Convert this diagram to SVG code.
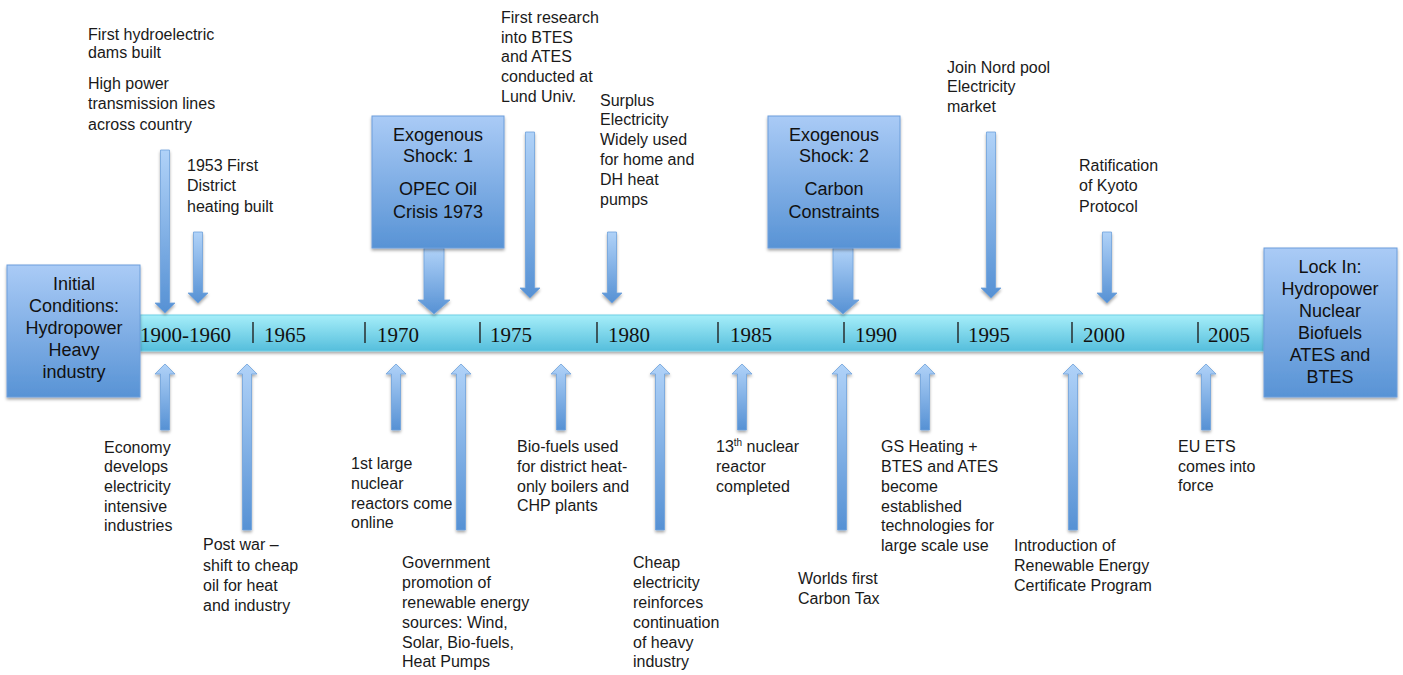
<svg xmlns="http://www.w3.org/2000/svg" width="1403" height="675" viewBox="0 0 1403 675">
  <defs>
    <linearGradient id="boxFill" x1="0" y1="0" x2="0" y2="1">
      <stop offset="0" stop-color="#aacbf6"/>
      <stop offset="1" stop-color="#5893d5"/>
    </linearGradient>
    <linearGradient id="barFill" x1="0" y1="0" x2="0" y2="1">
      <stop offset="0" stop-color="#a6eef9"/>
      <stop offset="1" stop-color="#55bedc"/>
    </linearGradient>
    <linearGradient id="arrowFill" x1="0" y1="0" x2="0" y2="1">
      <stop offset="0" stop-color="#b0d2f8"/>
      <stop offset="1" stop-color="#5691d4"/>
    </linearGradient>
    <filter id="shadow" x="-20%" y="-20%" width="140%" height="140%">
      <feDropShadow dx="0" dy="2" stdDeviation="1.6" flood-color="#000" flood-opacity="0.35"/>
    </filter>
  </defs>
  <style>
    .box { fill: url(#boxFill); stroke: #6d9edb; stroke-width: 1; filter: url(#shadow); }
    .bar { fill: url(#barFill); stroke: #6fcfe6; stroke-width: 1; filter: url(#shadow); }
    .arrow { fill: url(#arrowFill); stroke: #6ea2dc; stroke-width: 0.8; filter: url(#shadow); }
    .tick { stroke: #222; stroke-width: 1.4; }
    .year { font-family: "Liberation Serif", "Times New Roman", serif; font-size: 21px; fill: #111; }
    .lbl { font-family: "Liberation Sans", Arial, sans-serif; font-size: 16px; fill: #1a1a1a; }
    .boxtxt { font-family: "Liberation Sans", Arial, sans-serif; font-size: 18px; fill: #111; text-anchor: middle; }
  </style>

  <!-- timeline bar -->
  <g id="timeline">
    <rect class="bar" x="140" y="315" width="1124" height="36"/>
    <g class="tick">
      <line x1="253" y1="322" x2="253" y2="343"/>
      <line x1="365" y1="322" x2="365" y2="343"/>
      <line x1="480" y1="322" x2="480" y2="343"/>
      <line x1="597" y1="322" x2="597" y2="343"/>
      <line x1="718" y1="322" x2="718" y2="343"/>
      <line x1="844" y1="322" x2="844" y2="343"/>
      <line x1="958" y1="322" x2="958" y2="343"/>
      <line x1="1072" y1="322" x2="1072" y2="343"/>
      <line x1="1198" y1="322" x2="1198" y2="343"/>
    </g>
    <g class="year">
      <text x="140" y="342">1900-1960</text>
      <text x="264" y="342">1965</text>
      <text x="377" y="342">1970</text>
      <text x="490" y="342">1975</text>
      <text x="608" y="342">1980</text>
      <text x="730" y="342">1985</text>
      <text x="855" y="342">1990</text>
      <text x="968" y="342">1995</text>
      <text x="1083" y="342">2000</text>
      <text x="1208" y="342">2005</text>
    </g>
  </g>

  <!-- arrows pointing to the timeline -->
  <g id="connectors">
    <!-- from above -->
    <path class="arrow" d="M160.5,150 H169.5 V303 H175 L165,313 L155,303 H160.5 Z"/>
    <path class="arrow" d="M193.5,232 H202.5 V293 H208 L198,303 L188,293 H193.5 Z"/>
    <path class="arrow" d="M424,248 H444 V300 H450 L434,314 L418,300 H424 Z"/>
    <path class="arrow" d="M525.5,132 H534.5 V288 H540 L530,298 L520,288 H525.5 Z"/>
    <path class="arrow" d="M607.5,232 H616.5 V293 H622 L612,303 L602,293 H607.5 Z"/>
    <path class="arrow" d="M833,248 H853 V300 H859 L843,314 L827,300 H833 Z"/>
    <path class="arrow" d="M986.5,132 H995.5 V288 H1001 L991,298 L981,288 H986.5 Z"/>
    <path class="arrow" d="M1102.5,232 H1111.5 V293 H1117 L1107,303 L1097,293 H1102.5 Z"/>
    <!-- from below -->
    <path class="arrow" d="M165,364 L175,374 H169.5 V430 H160.5 V374 H155 Z"/>
    <path class="arrow" d="M247,364 L257,374 H251.5 V530 H242.5 V374 H237 Z"/>
    <path class="arrow" d="M396,364 L406,374 H400.5 V430 H391.5 V374 H386 Z"/>
    <path class="arrow" d="M461,364 L471,374 H465.5 V530 H456.5 V374 H451 Z"/>
    <path class="arrow" d="M561,364 L571,374 H565.5 V430 H556.5 V374 H551 Z"/>
    <path class="arrow" d="M660,364 L670,374 H664.5 V530 H655.5 V374 H650 Z"/>
    <path class="arrow" d="M742,364 L752,374 H746.5 V430 H737.5 V374 H732 Z"/>
    <path class="arrow" d="M842,364 L852,374 H846.5 V530 H837.5 V374 H832 Z"/>
    <path class="arrow" d="M925,364 L935,374 H929.5 V430 H920.5 V374 H915 Z"/>
    <path class="arrow" d="M1073,364 L1083,374 H1077.5 V530 H1068.5 V374 H1063 Z"/>
    <path class="arrow" d="M1206,364 L1216,374 H1210.5 V430 H1201.5 V374 H1196 Z"/>
  </g>

  <!-- boxes -->
  <g id="initial-conditions">
    <rect class="box" x="7" y="265" width="133" height="132"/>
    <text class="boxtxt" y="290"><tspan x="74">Initial</tspan><tspan x="74" dy="22">Conditions:</tspan><tspan x="74" dy="22">Hydropower</tspan><tspan x="74" dy="22">Heavy</tspan><tspan x="74" dy="22">industry</tspan></text>
  </g>
  <g id="shock-1">
    <rect class="box" x="372" y="116" width="132" height="132"/>
    <text class="boxtxt" y="141"><tspan x="438">Exogenous</tspan><tspan x="438" dy="21">Shock: 1</tspan><tspan x="438" dy="33">OPEC Oil</tspan><tspan x="438" dy="23">Crisis 1973</tspan></text>
  </g>
  <g id="shock-2">
    <rect class="box" x="768" y="116" width="132" height="132"/>
    <text class="boxtxt" y="141"><tspan x="834">Exogenous</tspan><tspan x="834" dy="21">Shock: 2</tspan><tspan x="834" dy="33">Carbon</tspan><tspan x="834" dy="23">Constraints</tspan></text>
  </g>
  <g id="lock-in">
    <rect class="box" x="1264" y="248" width="133" height="149"/>
    <text class="boxtxt" y="273"><tspan x="1330">Lock In:</tspan><tspan x="1330" dy="22">Hydropower</tspan><tspan x="1330" dy="22">Nuclear</tspan><tspan x="1330" dy="22">Biofuels</tspan><tspan x="1330" dy="22">ATES and</tspan><tspan x="1330" dy="22">BTES</tspan></text>
  </g>

  <!-- event labels above the timeline -->
  <g id="hydro-dams">
    <text class="lbl" y="40"><tspan x="88">First hydroelectric</tspan><tspan x="88" dy="18">dams built</tspan><tspan x="88" dy="31">High power</tspan><tspan x="88" dy="20">transmission lines</tspan><tspan x="88" dy="21">across country</tspan></text>
  </g>
  <g id="district-heating">
    <text class="lbl" y="171"><tspan x="187">1953 First</tspan><tspan x="187" dy="20">District</tspan><tspan x="187" dy="21">heating built</tspan></text>
  </g>
  <g id="btes-research">
    <text class="lbl" y="23"><tspan x="501">First research</tspan><tspan x="501" dy="20">into BTES</tspan><tspan x="501" dy="19">and ATES</tspan><tspan x="501" dy="20">conducted at</tspan><tspan x="501" dy="20">Lund Univ.</tspan></text>
  </g>
  <g id="surplus-electricity">
    <text class="lbl" y="106"><tspan x="600">Surplus</tspan><tspan x="600" dy="19">Electricity</tspan><tspan x="600" dy="20">Widely used</tspan><tspan x="600" dy="20">for home and</tspan><tspan x="600" dy="20">DH heat</tspan><tspan x="600" dy="20">pumps</tspan></text>
  </g>
  <g id="nord-pool">
    <text class="lbl" y="73"><tspan x="947">Join Nord pool</tspan><tspan x="947" dy="19">Electricity</tspan><tspan x="947" dy="20">market</tspan></text>
  </g>
  <g id="kyoto">
    <text class="lbl" y="171"><tspan x="1079">Ratification</tspan><tspan x="1079" dy="20">of Kyoto</tspan><tspan x="1079" dy="21">Protocol</tspan></text>
  </g>

  <!-- event labels below the timeline -->
  <g id="economy">
    <text class="lbl" y="453"><tspan x="104">Economy</tspan><tspan x="104" dy="19">develops</tspan><tspan x="104" dy="20">electricity</tspan><tspan x="104" dy="20">intensive</tspan><tspan x="104" dy="19">industries</tspan></text>
  </g>
  <g id="post-war">
    <text class="lbl" y="550"><tspan x="203">Post war –</tspan><tspan x="203" dy="21">shift to cheap</tspan><tspan x="203" dy="20">oil for heat</tspan><tspan x="203" dy="20">and industry</tspan></text>
  </g>
  <g id="nuclear-reactors">
    <text class="lbl" y="469"><tspan x="351">1st large</tspan><tspan x="351" dy="20">nuclear</tspan><tspan x="351" dy="20">reactors come</tspan><tspan x="351" dy="19">online</tspan></text>
  </g>
  <g id="government-promotion">
    <text class="lbl" y="568"><tspan x="402">Government</tspan><tspan x="402" dy="20">promotion of</tspan><tspan x="402" dy="20">renewable energy</tspan><tspan x="402" dy="20">sources: Wind,</tspan><tspan x="402" dy="20">Solar, Bio-fuels,</tspan><tspan x="402" dy="19">Heat Pumps</tspan></text>
  </g>
  <g id="bio-fuels">
    <text class="lbl" y="452"><tspan x="517">Bio-fuels used</tspan><tspan x="517" dy="20">for district heat-</tspan><tspan x="517" dy="20">only boilers and</tspan><tspan x="517" dy="19">CHP plants</tspan></text>
  </g>
  <g id="cheap-electricity">
    <text class="lbl" y="568"><tspan x="633">Cheap</tspan><tspan x="633" dy="20">electricity</tspan><tspan x="633" dy="20">reinforces</tspan><tspan x="633" dy="20">continuation</tspan><tspan x="633" dy="20">of heavy</tspan><tspan x="633" dy="19">industry</tspan></text>
  </g>
  <g id="reactor-13">
    <text class="lbl" y="452"><tspan x="716">13<tspan font-size="10px" dy="-6">th</tspan><tspan dy="6"> nuclear</tspan></tspan><tspan x="716" dy="20">reactor</tspan><tspan x="716" dy="20">completed</tspan></text>
  </g>
  <g id="carbon-tax">
    <text class="lbl" y="584"><tspan x="798">Worlds first</tspan><tspan x="798" dy="20">Carbon Tax</tspan></text>
  </g>
  <g id="gs-heating">
    <text class="lbl" y="452"><tspan x="881">GS Heating +</tspan><tspan x="881" dy="20">BTES and ATES</tspan><tspan x="881" dy="20">become</tspan><tspan x="881" dy="20">established</tspan><tspan x="881" dy="19">technologies for</tspan><tspan x="881" dy="20">large scale use</tspan></text>
  </g>
  <g id="certificate-program">
    <text class="lbl" y="551"><tspan x="1014">Introduction of</tspan><tspan x="1014" dy="20">Renewable Energy</tspan><tspan x="1014" dy="20">Certificate Program</tspan></text>
  </g>
  <g id="eu-ets">
    <text class="lbl" y="452"><tspan x="1178">EU ETS</tspan><tspan x="1178" dy="20">comes into</tspan><tspan x="1178" dy="19">force</tspan></text>
  </g>
</svg>
